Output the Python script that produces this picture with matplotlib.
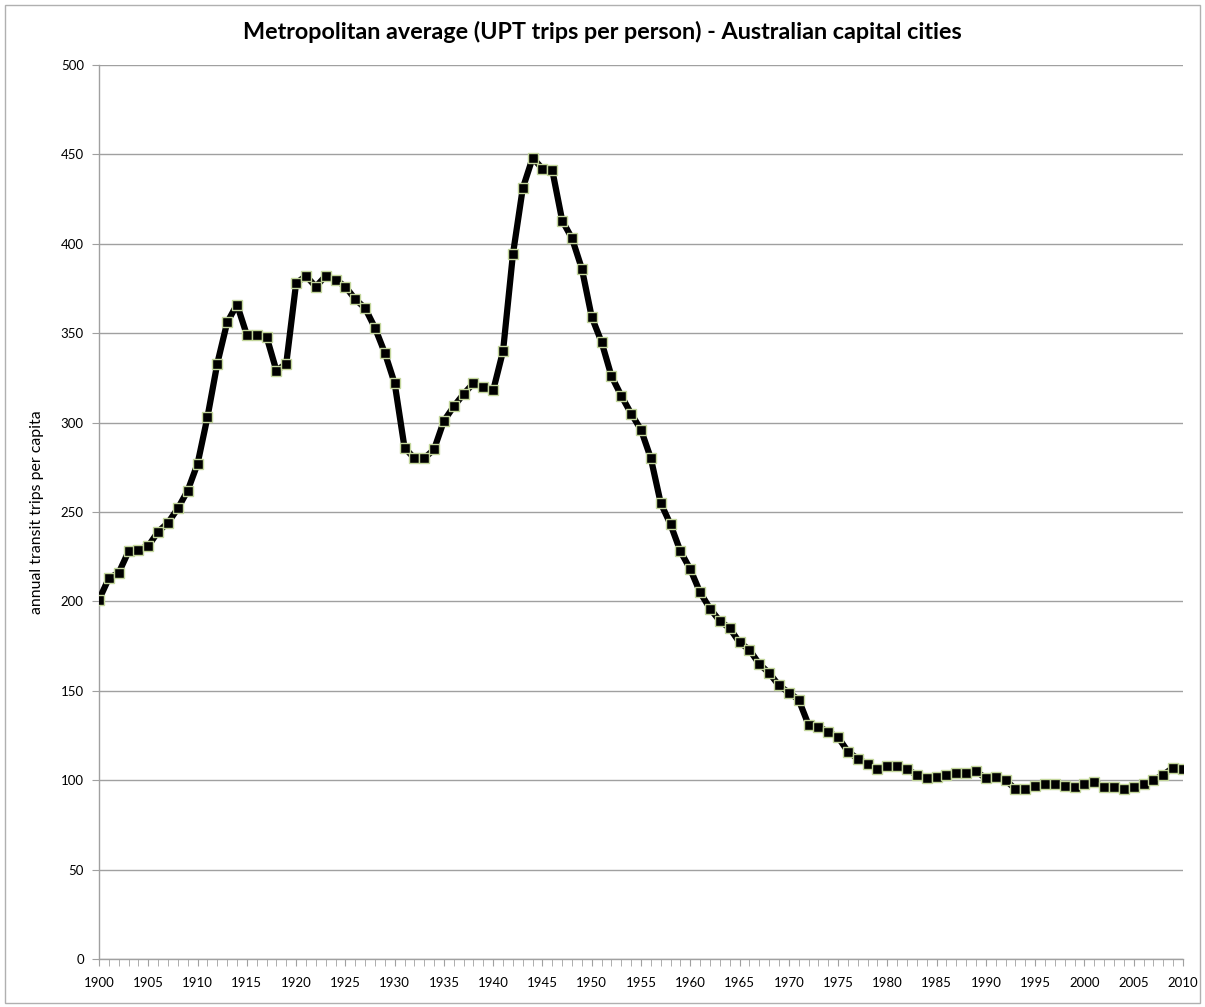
import matplotlib.pyplot as plt
from matplotlib.patches import Rectangle
from matplotlib.ticker import MultipleLocator

years = list(range(1900, 2011))
trips = [
    201, 213, 216, 228, 229, 231, 239, 244, 252, 262,   # 1900-1909
    277, 303, 333, 356, 366, 349, 349, 348, 329, 333,   # 1910-1919
    378, 382, 376, 382, 380, 376, 369, 364, 353, 339,   # 1920-1929
    322, 286, 280, 280, 285, 301, 309, 316, 322, 320,   # 1930-1939
    318, 340, 394, 431, 448, 442, 441, 413, 403, 386,   # 1940-1949
    359, 345, 326, 315, 305, 296, 280, 255, 243, 228,   # 1950-1959
    218, 205, 196, 189, 185, 177, 173, 165, 160, 153,   # 1960-1969
    149, 145, 131, 130, 127, 124, 116, 112, 109, 106,   # 1970-1979
    108, 108, 106, 103, 101, 102, 103, 104, 104, 105,   # 1980-1989
    101, 102, 100, 95, 95, 97, 98, 98, 97, 96,          # 1990-1999
    98, 99, 96, 96, 95, 96, 98, 100, 103, 107,          # 2000-2009
    106,                                                # 2010
]

title = "Metropolitan average (UPT trips per person) - Australian capital cities"
ylabel = "annual transit trips per capita"

plt.rcParams['font.family'] = ['Lato', 'DejaVu Sans']

fig = plt.figure(figsize=(12.05, 10.07), dpi=100)
ax = fig.add_axes([0.0822, 0.0477, 0.8995, 0.8878])

ax.plot(years, trips, color='black', linewidth=4.5, marker='s', markersize=6.5,
        markerfacecolor='black', markeredgecolor='#c3d69b', markeredgewidth=1,
        solid_joinstyle='round', zorder=3)

ax.set_xlim(1900, 2010)
ax.set_ylim(0, 500)
ax.yaxis.set_major_locator(MultipleLocator(50))
ax.xaxis.set_major_locator(MultipleLocator(5))
ax.xaxis.set_minor_locator(MultipleLocator(1))
ax.grid(axis='y', color='#a0a0a0', linewidth=1)
ax.set_axisbelow(True)

for s in ['top', 'right']:
    ax.spines[s].set_visible(False)
for s in ['left', 'bottom']:
    ax.spines[s].set_color('#a0a0a0')
    ax.spines[s].set_linewidth(1)

ax.tick_params(axis='both', which='both', color='#a0a0a0', length=5,
               direction='out', labelsize=9.5)
ax.tick_params(axis='x', pad=8)
ax.tick_params(axis='y', pad=6)

ax.set_ylabel(ylabel, fontsize=11.4, labelpad=12)
fig.text(0.5, 0.968, title, ha='center', va='center', fontsize=16.8,
         fontweight='bold')

fig.patches.append(Rectangle((0.004, 0.004), 0.992, 0.991,
                             transform=fig.transFigure, fill=False,
                             edgecolor='#b0b0b0', linewidth=1))

fig.savefig('out.png', dpi=100)
